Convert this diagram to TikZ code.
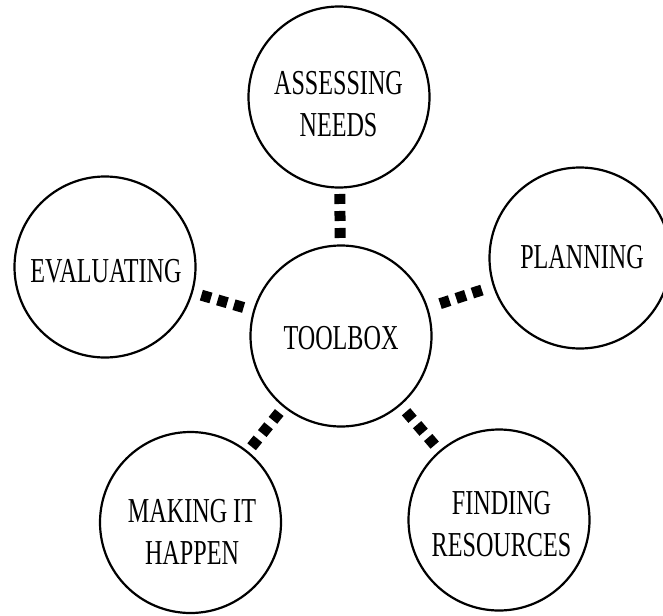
\documentclass[tikz,border=0pt]{standalone}
\usepackage{fontspec}
\setmainfont{Liberation Serif}[FakeStretch=0.69]
\begin{document}
\begin{tikzpicture}[x=1pt,y=-1pt,
  bubble/.style={draw=black,line width=2.2pt,circle,minimum size=181pt,inner sep=0pt},
  lbl/.style={inner sep=0pt,align=center,font=\fontsize{35}{42}\selectfont},
  conn/.style={line width=11pt,line cap=butt,dash pattern=on 10pt off 7pt,shorten <=#1,shorten >=#1}]
\useasboundingbox (0,0) rectangle (663,615);
\node[bubble] (A) at (339,97) {};
\node[bubble] (T) at (341,336) {};
\node[bubble] (E) at (105,267) {};
\node[bubble] (P) at (580,258) {};
\node[bubble] (M) at (190.5,522.5) {};
\node[bubble] (F) at (499,520) {};
\node[lbl] (tA) at (338.5,104.5) {ASSESSING\\NEEDS};
\node[lbl] (tT) at (341,338.5) {TOOLBOX};
\node[lbl] (tE) at (106,271.5) {EVALUATING};
\node[lbl] (tP) at (582,257) {PLANNING};
\node[lbl] (tM) at (192,532) {MAKING IT\\HAPPEN};
\node[lbl] (tF) at (501.5,524) {FINDING\\RESOURCES};
\draw[conn=5.4pt] (A) -- (T);
\draw[conn=8.8pt] (E) -- (T);
\draw[conn=11.6pt] (P) -- (T);
\draw[conn=5.7pt] (M) -- (T);
\draw[conn=7.1pt] (F) -- (T);
\end{tikzpicture}
\end{document}
